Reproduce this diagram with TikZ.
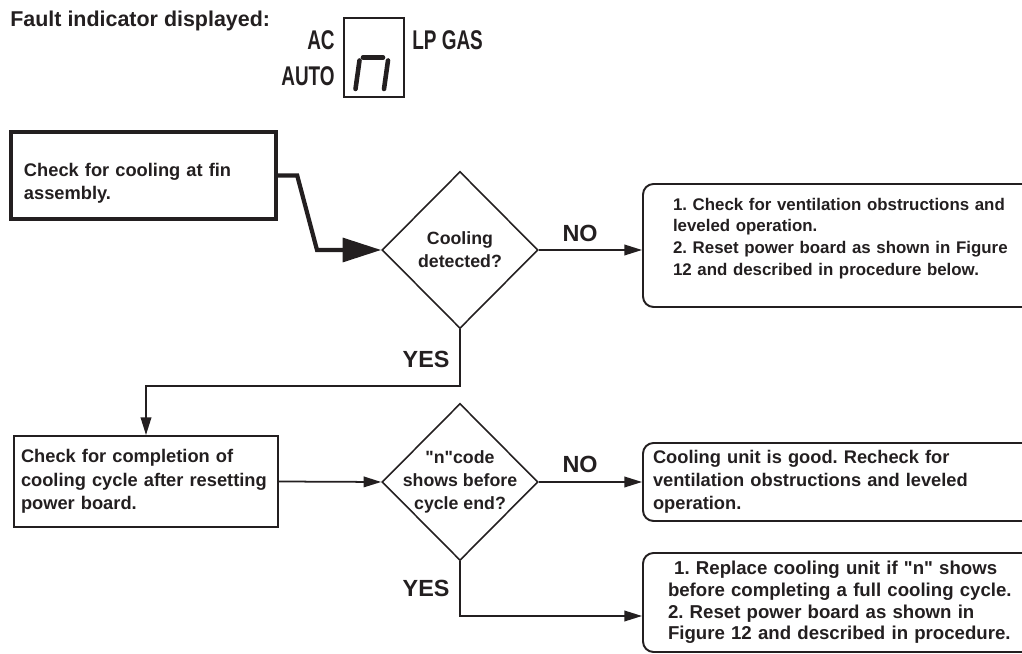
\documentclass[tikz,border=0pt]{standalone}
\usepackage{fontspec}
\setmainfont{Liberation Sans}[Ligatures=TeXOff]
\newfontfamily\condfont[FakeStretch=0.7, Ligatures=TeXOff]{Liberation Sans}
\usetikzlibrary{positioning, arrows.meta, shapes.geometric}
\definecolor{ink}{RGB}{35,31,32}

\begin{document}
\frenchspacing
\begin{tikzpicture}[
  x=1cm, y=1cm,
  font=\bfseries, text=ink,
  stepbox/.style={draw=ink, line width=1.1pt, align=left, inner ysep=0pt,
                  font=\fontsize{10.4}{13.1}\selectfont\bfseries},
  firstbox/.style={stepbox, line width=2.5pt},
  outbox/.style={stepbox, rounded corners=6pt},
  decide/.style={diamond, draw=ink, line width=0.9pt, align=center,
                 minimum width=3.12cm, minimum height=3.14cm, inner sep=-2mm,
                 font=\fontsize{10.1}{13.1}\selectfont\bfseries},
  answer/.style={font=\fontsize{13.3}{16}\selectfont\bfseries, inner sep=0pt},
  indlbl/.style={font=\condfont\fontsize{15.4}{18}\selectfont\bfseries, inner sep=0pt},
  arr/.style={draw=ink, line width=1pt, -{Triangle[length=10pt, width=6pt]}},
  bigarr/.style={draw=ink, line width=2.4pt, -{Triangle[length=22pt, width=13.5pt]}},
  seg/.style={draw=ink, line width=2.6pt, line cap=round}
]
\useasboundingbox (0,0) rectangle (20.44,13.08);

% fault indicator
\node[anchor=base west, inner sep=0pt, font=\fontsize{12.2}{14}\selectfont\bfseries]
  (title) at (0.2, 12.54) {Fault indicator displayed:};
\node[draw=ink, line width=0.85pt, minimum width=1.2cm, minimum height=1.58cm,
      inner sep=0pt] (disp) at (7.48, 11.93) {};
\node[indlbl, anchor=east] (ac)    at (6.70, 12.28) {AC};
\node[indlbl, anchor=east] (auto)  at (6.70, 11.56) {AUTO};
\node[indlbl, anchor=west] (lpgas) at (8.24, 12.28) {LP GAS};
\begin{scope}[shift={(disp.center)}]
  \draw[seg] (-0.22,0) -- (0.18,0);
  \draw[seg] (-0.29,-0.06) -- (-0.37,-0.63);
  \draw[seg] (0.28,-0.06) -- (0.20,-0.63);
\end{scope}

% steps
\node[firstbox, minimum width=5.30cm, minimum height=1.74cm, text width=4.78cm,
      inner xsep=0.26cm, text height=16.6pt] (finbox) at (2.87, 9.57)
  {Check for cooling at fin\\assembly.};
\node[decide] (cooldec) at (9.20, 8.08) {Cooling\\detected?};
\node[outbox, minimum height=2.46cm, text width=7.0cm, inner xsep=0.6cm,
      text depth=47pt, font=\fontsize{9.6}{12.3}\selectfont\bfseries]
  (ventbox) at (16.96, 8.17)
  {1. Check for ventilation obstructions and\\leveled operation.\\2. Reset power board as shown in Figure\\12 and described in procedure below.};

\node[stepbox, minimum height=1.82cm, text width=5.0cm, inner xsep=0.14cm,
      font=\fontsize{10.4}{13.5}\selectfont\bfseries]
  (cyclebox) at (2.92, 3.45) {Check for completion of\\cooling cycle after resetting\\power board.};
\node[decide] (codedec) at (9.20, 3.44) {"n"code\\shows before\\cycle end?};
\node[outbox, minimum height=1.56cm, text width=7.6cm, inner xsep=0.2cm]
  (goodbox) at (16.86, 3.44) {Cooling unit is good. Recheck for\\ventilation obstructions and leveled\\operation.};
\node[outbox, minimum height=1.98cm, text width=7.4cm, inner xsep=0.5cm,
      font=\fontsize{10.6}{12.3}\selectfont\bfseries] (replbox) at (17.06, 1.03)
  {\ 1. Replace cooling unit if "n" shows\\before completing a full cooling cycle.\\2. Reset power board as shown in\\Figure 12 and described in procedure.};

% connectors
\draw[bigarr] (finbox.east) -- ++(0.38,0) -- (6.34,0 |- cooldec.west) -- (cooldec.west);
\draw[arr] (cooldec.east) -- node[answer, above=4pt, pos=0.40] (no1) {NO}
  (cooldec.east -| ventbox.west);
\draw[arr] (cooldec.south) -- node[answer, left=5.5pt, pos=0.53] (yes1) {YES}
  ++(0,-1.14) -| (cyclebox.north);
\draw[arr] (cyclebox.east) -- (codedec.west);
\draw[arr] (codedec.east) -- node[answer, above=5pt, pos=0.40] (no2) {NO}
  (codedec.east -| goodbox.west);
\draw[arr] (codedec.south) |- node[answer, left=5.5pt, pos=0.25] (yes2) {YES}
  ([yshift=-0.27cm]replbox.west);
\end{tikzpicture}
\end{document}
